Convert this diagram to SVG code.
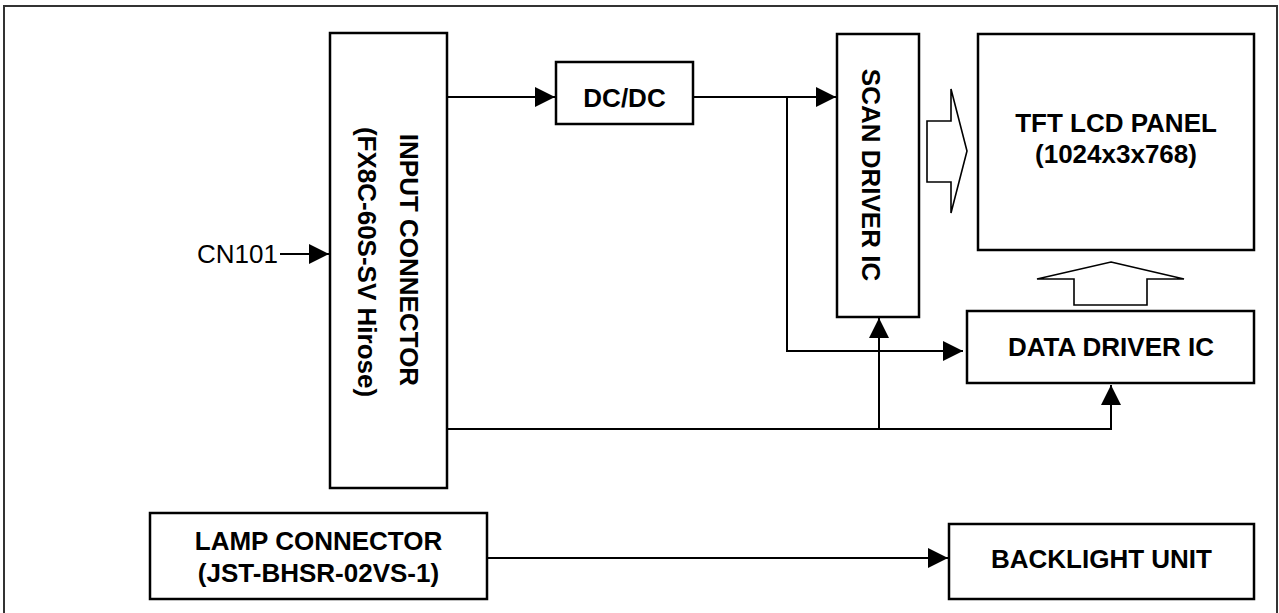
<svg xmlns="http://www.w3.org/2000/svg" width="1279" height="613" viewBox="0 0 1279 613">
<defs>
<style>
.box{fill:#fff;stroke:#000;stroke-width:2.5}
.ln{fill:none;stroke:#000;stroke-width:2}
.hollow{fill:#fff;stroke:#000;stroke-width:1.6;stroke-linejoin:miter}
.t{font-family:"Liberation Sans",Arial,sans-serif;font-size:26px;font-weight:bold;fill:#000;text-anchor:middle}
.r{font-family:"Liberation Sans",Arial,sans-serif;font-size:26px;fill:#000;text-anchor:end}
</style>
<marker id="ah" viewBox="0 0 20 20" refX="20" refY="10" markerWidth="20" markerHeight="20" markerUnits="userSpaceOnUse" orient="auto">
<path d="M0,0 L20,10 L0,20 Z" fill="#000"/>
</marker>
</defs>
<rect width="1279" height="613" fill="#fff"/>
<rect x="4" y="6" width="1273" height="640" fill="none" stroke="#333" stroke-width="2"/>

<g id="input-connector">
<rect class="box" x="330" y="33" width="117" height="455"/>
<text class="t" transform="translate(400,260) rotate(90)">INPUT CONNECTOR</text>
<text class="t" transform="translate(358,262) rotate(90)">(FX8C-60S-SV Hirose)</text>
</g>
<g id="cn101">
<text class="r" x="278" y="263">CN101</text>
</g>
<g id="dcdc">
<rect class="box" x="556" y="62" width="137" height="62"/>
<text class="t" x="624.5" y="107">DC/DC</text>
</g>
<g id="scan-driver">
<rect class="box" x="837" y="34" width="82" height="283"/>
<text class="t" transform="translate(862,175) rotate(90)">SCAN DRIVER IC</text>
</g>
<g id="tft-panel">
<rect class="box" x="978" y="34" width="276" height="216"/>
<text class="t" x="1116" y="132">TFT LCD PANEL</text>
<text class="t" x="1116" y="163">(1024x3x768)</text>
</g>
<g id="data-driver">
<rect class="box" x="967" y="311" width="287" height="72"/>
<text class="t" x="1111" y="356">DATA DRIVER IC</text>
</g>
<g id="lamp-connector">
<rect class="box" x="150" y="513" width="337" height="86"/>
<text class="t" x="318.5" y="550">LAMP CONNECTOR</text>
<text class="t" x="318.5" y="582">(JST-BHSR-02VS-1)</text>
</g>
<g id="backlight">
<rect class="box" x="949" y="524" width="305" height="75"/>
<text class="t" x="1101.5" y="568">BACKLIGHT UNIT</text>
</g>

<g id="connectors">
<line class="ln" x1="280" y1="254" x2="329" y2="254" marker-end="url(#ah)"/>
<line class="ln" x1="447" y1="97" x2="555" y2="97" marker-end="url(#ah)"/>
<line class="ln" x1="693" y1="97" x2="836" y2="97" marker-end="url(#ah)"/>
<polyline class="ln" points="787,97 787,351 963,351" marker-end="url(#ah)"/>
<line class="ln" x1="879" y1="429" x2="879" y2="318" marker-end="url(#ah)"/>
<polyline class="ln" points="447,429 1111,429 1111,385" marker-end="url(#ah)"/>
<line class="ln" x1="487" y1="558" x2="948" y2="558" marker-end="url(#ah)"/>
<polygon class="hollow" points="951,89 967,151 951,213 951,182 927,182 927,121 951,121"/>
<polygon class="hollow" points="1111,262 1184,279 1147,279 1147,305 1074,305 1074,279 1037,279"/>
</g>
</svg>
